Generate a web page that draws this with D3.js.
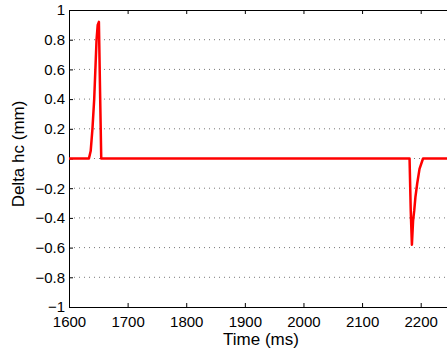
<!DOCTYPE html>
<html>
<head>
<meta charset="utf-8">
<script src="https://cdn.jsdelivr.net/npm/d3@7"></script>
<style>
body { margin: 0; background: #fff; }
svg { display: block; font-family: "Liberation Sans", Arial, sans-serif; }
</style>
</head>
<body>
<svg width="447" height="352"></svg>
<script>
// values
var times  = [1600, 1634, 1637, 1640, 1643, 1645, 1647, 1649, 1651, 1653, 1655, 2181, 2183, 2185, 2187, 2189, 2191, 2194, 2198, 2204, 2250]
var deltas = [0, 0, 0.05, 0.2, 0.4, 0.6, 0.8, 0.9, 0.92, 0.45, 0, 0, -0.35, -0.58, -0.42, -0.35, -0.26, -0.17, -0.07, 0, 0]
var xTicks = [1600, 1700, 1800, 1900, 2000, 2100, 2200]
var yTicks = [-1, -0.8, -0.6, -0.4, -0.2, 0, 0.2, 0.4, 0.6, 0.8, 1]

var svg = d3.select("svg")
var pLeft = 69, pTop = 10, pBottom = 307, pRight = 450

var x = d3.scaleLinear().domain([1600, 2250]).range([pLeft, pRight])
var y = d3.scaleLinear().domain([-1, 1]).range([pBottom, pTop])

function fmt(v) { return String(+v.toFixed(1)).replace("-", "\u2212") }

// grid, dotted
svg.append("g").selectAll("line")
    .data(yTicks.filter(function(d){ return d > -1 && d < 1 }))
    .join("line")
    .attr("x1", pLeft).attr("x2", pRight)
    .attr("y1", function(d){ return y(d) }).attr("y2", function(d){ return y(d) })
    .attr("stroke", "#777").attr("stroke-width", 1)
    .attr("stroke-dasharray", "1,4")

// axes, ticks inward
var ax = svg.append("g")
ax.append("g").attr("transform", "translate(0," + pBottom + ")")
    .call(d3.axisBottom(x).tickValues(xTicks).tickSizeInner(-4).tickSizeOuter(0).tickPadding(9).tickFormat(d3.format("d")))
ax.append("g").attr("transform", "translate(0," + pTop + ")")
    .call(d3.axisTop(x).tickValues(xTicks).tickSizeInner(-4).tickSizeOuter(0).tickFormat(""))
ax.append("g").attr("transform", "translate(" + pLeft + ",0)")
    .call(d3.axisLeft(y).tickValues(yTicks).tickSizeInner(-4).tickSizeOuter(0).tickPadding(4).tickFormat(fmt))
ax.selectAll(".domain").attr("stroke", "#000")
ax.selectAll(".tick line").attr("stroke", "#000")
ax.selectAll("text").attr("font-size", 15).attr("fill", "#000")
    .attr("font-family", "'Liberation Sans', Arial, sans-serif")

// data line
var line = d3.line().x(function(d, i){ return x(times[i]) }).y(function(d){ return y(d) })
svg.append("path")
    .datum(deltas)
    .attr("d", line)
    .attr("fill", "none")
    .attr("stroke", "#ff0000")
    .attr("stroke-width", 2.5)
    .attr("stroke-linejoin", "round")

// labels
svg.append("text")
    .attr("x", 261).attr("y", 345)
    .attr("text-anchor", "middle")
    .attr("font-size", 17)
    .text("Time (ms)")
svg.append("text")
    .attr("transform", "translate(24,154) rotate(-90)")
    .attr("text-anchor", "middle")
    .attr("font-size", 17)
    .text("Delta hc (mm)")
</script>
</body>
</html>
